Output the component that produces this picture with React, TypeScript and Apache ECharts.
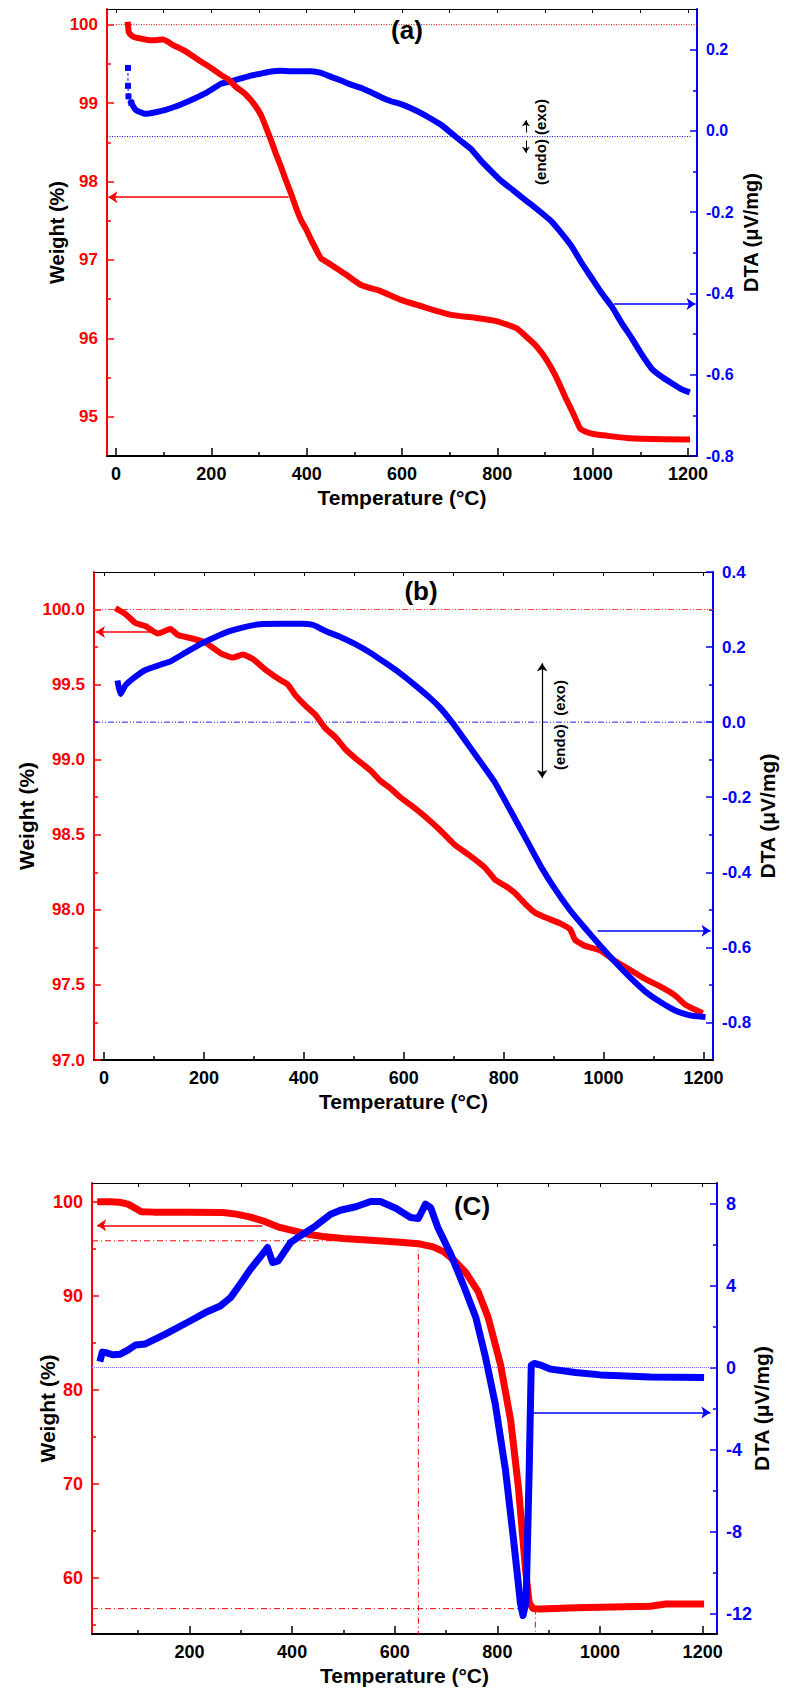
import React, { useEffect, useRef } from 'react';
import * as echarts from 'echarts';

const FONT = 'Arial, "Liberation Sans", Helvetica, sans-serif';
const RED = '#ff0000';
const BLUE = '#0000ff';

// ---------- tick values ----------
const tempMajor = [0, 200, 400, 600, 800, 1000, 1200];
const tempMinor = [100, 300, 500, 700, 900, 1100];
const tempAll = [0, 100, 200, 300, 400, 500, 600, 700, 800, 900, 1000, 1100, 1200];
const tempMajorC = [200, 400, 600, 800, 1000, 1200];
const tempMinorC = [100, 300, 500, 700, 900, 1100];
const tempAllC = [100, 200, 300, 400, 500, 600, 700, 800, 900, 1000, 1100, 1200];

const wMajorA = [95, 96, 97, 98, 99, 100];
const wMinorA = [95.5, 96.5, 97.5, 98.5, 99.5];
const dMajorA = [-0.8, -0.6, -0.4, -0.2, 0, 0.2];
const dMinorA = [-0.7, -0.5, -0.3, -0.1, 0.1];

const wMajorB = [97.0, 97.5, 98.0, 98.5, 99.0, 99.5, 100.0];
const wMinorB = [97.25, 97.75, 98.25, 98.75, 99.25, 99.75];
const dMajorB = [-0.8, -0.6, -0.4, -0.2, 0, 0.2, 0.4];
const dMinorB = [-0.7, -0.5, -0.3, -0.1, 0.1, 0.3];

const wMajorC = [60, 70, 80, 90, 100];
const wMinorC = [55, 65, 75, 85, 95];
const dMajorC = [-12, -8, -4, 0, 4, 8];
const dMinorC = [-10, -6, -2, 2, 6];

// ---------- data: (a) ----------
const weightA = [
  [25, 100.0], [27, 99.9], [35, 99.85], [46, 99.83], [73, 99.8], [99, 99.81], [120, 99.74], [146, 99.66],
  [178, 99.53], [199, 99.45], [220, 99.36], [236, 99.3], [251, 99.21], [272, 99.11], [288, 99.0], [304, 98.85],
  [314, 98.7], [325, 98.53], [335, 98.36], [346, 98.19], [356, 98.02], [367, 97.85], [378, 97.66], [388, 97.51],
  [399, 97.39], [409, 97.26], [420, 97.13], [430, 97.02], [451, 96.94], [483, 96.81], [514, 96.68], [556, 96.6],
  [598, 96.49], [651, 96.39], [703, 96.3], [756, 96.26], [798, 96.22], [840, 96.13], [861, 96.02], [882, 95.9],
  [903, 95.73], [924, 95.5], [945, 95.22], [961, 95.02], [974, 94.85], [990, 94.8], [1002, 94.78], [1040, 94.75],
  [1071, 94.73], [1103, 94.72], [1198, 94.71],
];
const dtaAStart = [[25, 0.155], [25, 0.111], [26, 0.085], [32, 0.069]];
const dtaA = [
  [32, 0.069], [41, 0.052], [62, 0.042], [83, 0.046], [104, 0.052], [125, 0.06], [146, 0.07], [167, 0.081],
  [188, 0.093], [209, 0.108], [220, 0.116], [241, 0.122], [262, 0.129], [283, 0.136], [304, 0.141], [325, 0.146],
  [346, 0.148], [367, 0.147], [388, 0.147], [409, 0.147], [430, 0.143], [451, 0.133], [472, 0.124], [493, 0.114],
  [514, 0.106], [535, 0.095], [556, 0.083], [577, 0.073], [598, 0.066], [619, 0.056], [640, 0.044], [661, 0.03],
  [682, 0.015], [703, -0.005], [725, -0.026], [746, -0.046], [767, -0.075], [788, -0.1], [809, -0.124],
  [830, -0.143], [851, -0.163], [872, -0.182], [893, -0.202], [914, -0.223], [935, -0.252], [956, -0.284],
  [977, -0.325], [998, -0.362], [1019, -0.399], [1040, -0.432], [1061, -0.473], [1082, -0.51], [1103, -0.55],
  [1124, -0.585], [1145, -0.605], [1166, -0.621], [1187, -0.636], [1198, -0.641],
];
const refWeightA = [[0, 100], [1219, 100]];
const refDtaA = [[-19, -0.014], [1207, -0.014]];
const arrowWeightA = [[362, 97.8], [-16, 97.8]];
const arrowDtaA = [[1045, -0.426], [1216, -0.426]];
const endoArrowUpA = [[860, -0.004], [860, 0.026]];
const endoArrowDownA = [[860, -0.024], [860, -0.054]];

// ---------- data: (b) ----------
const weightB = [
  [28, 100.0], [43, 99.97], [63, 99.91], [83, 99.89], [108, 99.84], [133, 99.87], [148, 99.83], [173, 99.81],
  [203, 99.78], [233, 99.71], [258, 99.68], [278, 99.7], [298, 99.67], [323, 99.6], [353, 99.53], [368, 99.5],
  [383, 99.43], [403, 99.36], [423, 99.3], [443, 99.21], [463, 99.15], [483, 99.07], [503, 99.01], [533, 98.93],
  [553, 98.86], [573, 98.81], [593, 98.75], [613, 98.7], [643, 98.62], [673, 98.53], [703, 98.43], [733, 98.36],
  [763, 98.28], [783, 98.2], [803, 98.16], [823, 98.11], [843, 98.04], [863, 97.98], [883, 97.95], [913, 97.91],
  [933, 97.87], [943, 97.8], [963, 97.76], [993, 97.73], [1023, 97.66], [1053, 97.6], [1083, 97.54],
  [1113, 97.49], [1143, 97.43], [1163, 97.37], [1193, 97.32],
];
const dtaB = [
  [28, 0.103], [33, 0.075], [43, 0.098], [63, 0.121], [83, 0.139], [113, 0.153], [133, 0.162], [163, 0.185],
  [193, 0.208], [223, 0.227], [253, 0.243], [283, 0.254], [313, 0.261], [353, 0.262], [393, 0.262], [418, 0.259],
  [443, 0.243], [473, 0.227], [503, 0.208], [533, 0.185], [563, 0.158], [593, 0.13], [623, 0.098], [653, 0.064],
  [673, 0.038], [693, 0.006], [708, -0.021], [723, -0.049], [753, -0.105], [783, -0.162], [813, -0.234],
  [843, -0.307], [873, -0.381], [903, -0.445], [933, -0.501], [963, -0.549], [993, -0.595], [1023, -0.639],
  [1053, -0.68], [1083, -0.717], [1113, -0.745], [1143, -0.768], [1173, -0.781], [1198, -0.785],
];
const refWeightB = [[-20, 100], [1219, 100]];
const refDtaB = [[-20, 0], [1219, 0]];
const arrowWeightB = [[93, 99.85], [-16, 99.85]];
const arrowDtaB = [[988, -0.556], [1214, -0.556]];
const endoArrowB = [[877, 0.157], [877, -0.149]];

// ---------- data: (c) ----------
const weightC = [
  [27, 100.0], [45, 100.0], [64, 99.95], [80, 99.75], [95, 99.3], [106, 98.95], [130, 98.9], [200, 98.9],
  [265, 98.87], [291, 98.69], [317, 98.4], [343, 97.98], [372, 97.34], [400, 96.95], [430, 96.55], [460, 96.3],
  [500, 96.1], [553, 95.9], [611, 95.7], [650, 95.5], [675, 95.2], [695, 94.7], [715, 93.8], [738, 92.5],
  [762, 90.5], [782, 87.7], [806, 82.7], [826, 76.7], [841, 69.6], [855, 60.8], [862, 57.3], [870, 56.7],
  [884, 56.65], [952, 56.8], [1098, 56.95], [1128, 57.2], [1196, 57.2],
];
const dtaC = [
  [27, 0.45], [30, 0.75], [38, 0.72], [50, 0.62], [65, 0.65], [80, 0.85], [95, 1.1], [114, 1.15], [153, 1.63],
  [202, 2.28], [231, 2.68], [260, 3.0], [280, 3.41], [299, 4.07], [319, 4.8], [338, 5.4], [352, 5.85],
  [362, 5.12], [373, 5.2], [397, 6.1], [416, 6.42], [446, 6.91], [475, 7.48], [494, 7.67], [524, 7.84],
  [553, 8.1], [572, 8.1], [602, 7.77], [631, 7.32], [646, 7.27], [660, 7.97], [670, 7.8], [684, 6.83],
  [709, 5.53], [733, 4.07], [758, 2.44], [777, 0.49], [796, -1.79], [816, -5.04], [831, -8.29], [845, -11.5],
  [850, -12.1], [856, -11.4], [862, -5.0], [866, 0.1], [872, 0.2], [884, 0.12], [904, -0.08], [952, -0.24],
  [1001, -0.36], [1098, -0.46], [1196, -0.49],
];
const refWeightC1 = [[10, 95.85], [646, 95.85]];
const refVertC1 = [[646, 95.85], [646, 54]];
const refWeightC2 = [[10, 56.7], [874, 56.7]];
const refVertC2 = [[874, 56.7], [874, 54]];
const refDtaC = [[10, 0], [1222, 0]];
const arrowWeightC = [[342, 97.5], [20, 97.5]];
const arrowDtaC = [[870, -2.2], [1215, -2.2]];

// ---------- helpers ----------
function xAxesFor(grid: number, min: number, max: number, major: number[], minor: number[], all: number[]) {
  const common = { type: 'value', gridIndex: grid, min, max, splitLine: { show: false } };
  return [
    {
      ...common,
      position: 'bottom',
      axisLine: { show: true, onZero: false, lineStyle: { color: '#000', width: 2 } },
      axisTick: { show: true, inside: true, length: 8, customValues: major, lineStyle: { color: '#000', width: 1.5 } },
      axisLabel: {
        show: true, customValues: major, margin: 9, color: '#000', fontSize: 18, fontWeight: 'bold', fontFamily: FONT,
        formatter: (v: number) => String(v),
      },
      name: 'Temperature (°C)', nameLocation: 'middle', nameGap: 31, nameMoveOverlap: false,
      nameTextStyle: { color: '#000', fontSize: 21, fontWeight: 'bold', fontFamily: FONT },
    },
    {
      ...common,
      position: 'bottom',
      axisLine: { show: false, onZero: false },
      axisTick: { show: true, inside: true, length: 4, customValues: minor, lineStyle: { color: '#000', width: 1.5 } },
      axisLabel: { show: false },
    },
    {
      ...common,
      position: 'top',
      axisLine: { show: true, onZero: false, lineStyle: { color: '#000', width: 1 } },
      axisTick: { show: true, inside: true, length: 4, customValues: all, lineStyle: { color: '#000', width: 1 } },
      axisLabel: { show: false },
    },
  ];
}

function yAxesFor(
  grid: number, side: 'left' | 'right', min: number, max: number, major: number[], minor: number[],
  color: string, fmt: (v: number) => string, name: string, nameGap: number, fontSize: number, nameSize: number,
) {
  const common = { type: 'value', gridIndex: grid, min, max, position: side, splitLine: { show: false } };
  return [
    {
      ...common,
      axisLine: { show: true, onZero: false, lineStyle: { color, width: 2 } },
      axisTick: { show: true, inside: true, length: 7, customValues: major, lineStyle: { color, width: 1.5 } },
      axisLabel: {
        show: true, customValues: major, margin: 9, color, fontSize, fontWeight: 'bold', fontFamily: FONT,
        formatter: fmt,
      },
      name, nameLocation: 'middle', nameGap, nameRotate: 90, nameMoveOverlap: false,
      nameTextStyle: { color: '#000', fontSize: nameSize, fontWeight: 'bold', fontFamily: FONT },
    },
    {
      ...common,
      axisLine: { show: false, onZero: false },
      axisTick: { show: true, inside: true, length: 4, customValues: minor, lineStyle: { color, width: 1.5 } },
      axisLabel: { show: false },
    },
  ];
}

function curve(data: number[][], xi: number, yi: number, color: string, width: number, z = 3, smooth: number = 0) {
  return {
    type: 'line', xAxisIndex: xi, yAxisIndex: yi, data, showSymbol: false, symbol: 'none',
    smooth,
    lineStyle: { color, width, join: 'round', cap: 'square' }, silent: true, z,
  };
}

function refLine(data: number[][], xi: number, yi: number, color: string, dash: any, width = 1) {
  return {
    type: 'line', xAxisIndex: xi, yAxisIndex: yi, data, showSymbol: false, symbol: 'none',
    lineStyle: { color, width, type: dash }, silent: true, z: 2,
  };
}

function arrow(coords: number[][], xi: number, yi: number, color: string, both = false, size = 9, width = 1.5) {
  return {
    type: 'lines', coordinateSystem: 'cartesian2d', xAxisIndex: xi, yAxisIndex: yi,
    symbol: both ? ['arrow', 'arrow'] : ['none', 'arrow'], symbolSize: size,
    lineStyle: { color, width, opacity: 1, curveness: 0 },
    data: [{ coords }], silent: true, z: 6,
  };
}

function label(text: string, x: number, y: number, size: number, rotation = 0) {
  return {
    type: 'text', x, y, rotation, z: 10,
    style: {
      text, fontSize: size, fontWeight: 'bold', fontFamily: FONT, fill: '#000',
      align: 'center', verticalAlign: 'middle',
    },
  };
}

const f0 = (v: number) => String(Math.round(v));
const f1 = (v: number) => (Math.abs(v) < 1e-9 ? '0.0' : v.toFixed(1));

export default function App() {
  const ref = useRef<HTMLDivElement>(null);
  useEffect(() => {
    if (!ref.current) return;
    const chart = echarts.init(ref.current, null, { renderer: 'svg' });
    const option: any = {
      animation: false,
      backgroundColor: '#fff',
      grid: [
        { left: 107, top: 9, width: 590, height: 447 },
        { left: 94, top: 572, width: 620, height: 488 },
        { left: 92, top: 1183, width: 625, height: 451 },
      ],
      xAxis: [
        ...xAxesFor(0, -19, 1219, tempMajor, tempMinor, tempAll),
        ...xAxesFor(1, -20, 1219, tempMajor, tempMinor, tempAll),
        ...xAxesFor(2, 10, 1228, tempMajorC, tempMinorC, tempAllC),
      ],
      yAxis: [
        ...yAxesFor(0, 'left', 94.5, 100.2, wMajorA, wMinorA, RED, f0, 'Weight (%)', 40, 17, 20),
        ...yAxesFor(0, 'right', -0.8, 0.3, dMajorA, dMinorA, BLUE, f1, 'DTA (μV/mg)', 44, 16, 20),
        ...yAxesFor(1, 'left', 97.0, 100.25, wMajorB, wMinorB, RED, f1, 'Weight (%)', 57, 17, 21),
        ...yAxesFor(1, 'right', -0.9, 0.4, dMajorB, dMinorB, BLUE, f1, 'DTA (μV/mg)', 44, 17, 21),
        ...yAxesFor(2, 'left', 54, 102, wMajorC, wMinorC, RED, f0, 'Weight (%)', 34, 18, 21),
        ...yAxesFor(2, 'right', -13, 9, dMajorC, dMinorC, BLUE, f0, 'DTA (μV/mg)', 34, 18, 21),
      ],
      series: [
        // (a)
        refLine(refWeightA, 0, 0, '#cc0000', [1, 1.5]),
        refLine(refDtaA, 0, 2, '#0000cc', [1, 1.5]),
        curve(dtaA, 0, 2, BLUE, 6, 3, 0.15),
        {
          type: 'line', xAxisIndex: 0, yAxisIndex: 2, data: dtaAStart, symbol: 'rect', symbolSize: 6,
          showSymbol: true, itemStyle: { color: BLUE }, lineStyle: { color: BLUE, width: 1, type: [3, 2] }, silent: true, z: 3,
        },
        curve(weightA, 0, 0, RED, 6, 4, 0.15),
        arrow(arrowWeightA, 0, 0, RED),
        arrow(arrowDtaA, 0, 2, BLUE),
        arrow(endoArrowUpA, 0, 2, '#000', false, 6, 1),
        arrow(endoArrowDownA, 0, 2, '#000', false, 6, 1),
        // (b)
        refLine(refWeightB, 3, 4, '#ff4040', [6, 2, 1, 2, 1, 2]),
        refLine(refDtaB, 3, 6, '#2020ff', [6, 2, 1, 2, 1, 2]),
        curve(weightB, 3, 4, RED, 6, 3, 0.15),
        curve(dtaB, 3, 6, BLUE, 6, 4, 0.15),
        arrow(arrowWeightB, 3, 4, RED),
        arrow(arrowDtaB, 3, 6, BLUE),
        arrow(endoArrowB, 3, 6, '#000', true, 8, 1.2),
        // (c)
        refLine(refWeightC1, 6, 8, RED, [6, 3, 1, 3]),
        refLine(refVertC1, 6, 8, RED, [6, 3, 1, 3]),
        refLine(refWeightC2, 6, 8, RED, [6, 3, 1, 3]),
        refLine(refVertC2, 6, 8, RED, [6, 3, 1, 3]),
        refLine(refDtaC, 6, 10, '#7070ff', [1, 1]),
        curve(weightC, 6, 8, RED, 7, 3, 0),
        curve(dtaC, 6, 10, BLUE, 7, 4, 0),
        arrow(arrowWeightC, 6, 8, RED),
        arrow(arrowDtaC, 6, 10, BLUE),
      ],
      graphic: [
        label('(a)', 407, 30, 26),
        label('(b)', 421, 591, 26),
        label('(C)', 472, 1206, 26),
        label('(endo) (exo)', 540, 142, 15, Math.PI / 2),
        label('(endo)  (exo)', 559, 725, 15, Math.PI / 2),
      ],
    };
    chart.setOption(option);
    return () => chart.dispose();
  }, []);
  return <div ref={ref} style={{ position: 'absolute', left: 0, top: 0, width: 786, height: 1691 }} />;
}
